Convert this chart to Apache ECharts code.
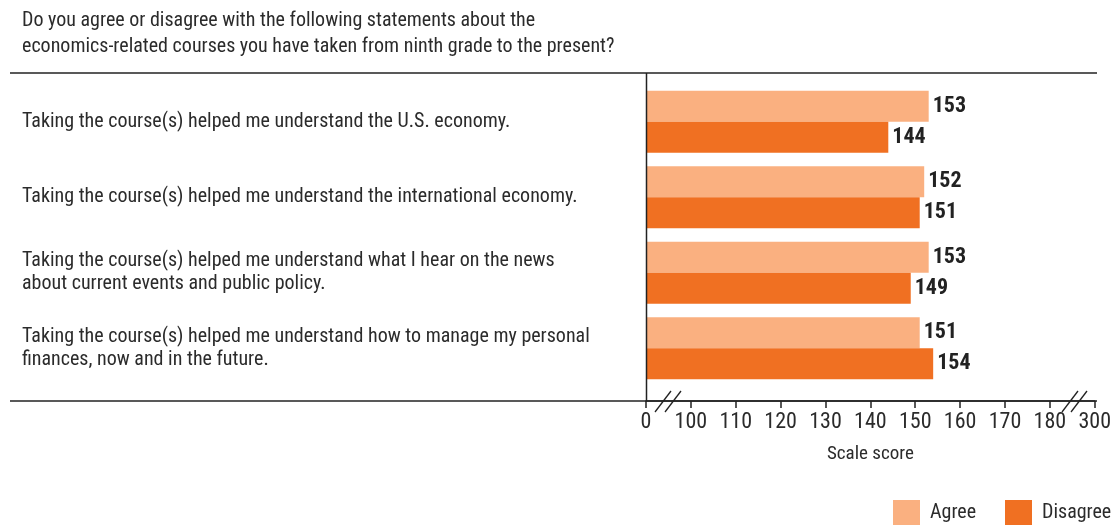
<!DOCTYPE html>
<html>
<head>
<meta charset="utf-8">
<script src="https://cdn.jsdelivr.net/npm/echarts@6/dist/echarts.min.js"></script>
<style>
html,body{margin:0;padding:0;background:#fff;}
#chart{width:1114px;height:527px;}
</style>
</head>
<body>
<div id="chart"></div>
<script>
var categories = [
  "Taking the course(s) helped me understand the U.S. economy.",
  "Taking the course(s) helped me understand the international economy.",
  "Taking the course(s) helped me understand what I hear on the news\nabout current events and public policy.",
  "Taking the course(s) helped me understand how to manage my personal\nfinances, now and in the future."
];
var agreeValues = [153, 152, 153, 151];
var disagreeValues = [144, 151, 149, 154];
// broken axis: position 90 shows "0", position 190 shows "300"
var tickLabels = {90: "0", 190: "300"};
var titleText = "Do you agree or disagree with the following statements about the\neconomics-related courses you have taken from ninth grade to the present?";

var FONT = 'Roboto';
var ST = 'condensed';
var TXT = '#2b2b2b';

var chart = echarts.init(document.getElementById('chart'));
var option = {
  backgroundColor: '#ffffff',
  animation: false,
  title: {
    text: titleText,
    left: 17,
    top: 3,
    textStyle: {fontFamily: FONT, fontStyle: ST, fontSize: 20, fontWeight: 'normal', color: TXT, lineHeight: 26}
  },
  legend: [
    {
      left: 888, top: 495, itemWidth: 27, itemHeight: 25, icon: 'rect', itemGap: 0,
      textStyle: {fontFamily: FONT, fontStyle: ST, fontSize: 20, color: TXT, padding: [0, 0, 0, 5]},
      data: ['Agree']
    },
    {
      left: 1000, top: 495, itemWidth: 27, itemHeight: 25, icon: 'rect', itemGap: 0,
      textStyle: {fontFamily: FONT, fontStyle: ST, fontSize: 20, color: TXT, padding: [0, 0, 0, 5]},
      data: ['Disagree']
    }
  ],
  grid: {left: 646, right: 19, top: 84, bottom: 141, containLabel: false},
  xAxis: {
    type: 'value',
    min: 90,
    max: 190,
    interval: 10,
    offset: 15,
    axisLine: {show: true, lineStyle: {color: '#222', width: 1.5}},
    axisTick: {show: true, length: 7, inside: false, lineStyle: {color: '#222', width: 1.5}},
    splitLine: {show: false},
    axisLabel: {
      fontFamily: FONT, fontStyle: ST, fontSize: 22, color: TXT, margin: 10,
      formatter: function (v) { return tickLabels[v] !== undefined ? tickLabels[v] : String(v); }
    },
    name: 'Scale score',
    nameLocation: 'middle',
    nameGap: 44,
    nameTextStyle: {fontFamily: FONT, fontStyle: ST, fontSize: 19, color: TXT}
  },
  yAxis: {
    type: 'category',
    inverse: true,
    data: categories,
    axisLine: {show: false},
    axisTick: {show: false},
    axisLabel: {
      align: 'left',
      margin: 624,
      fontFamily: FONT,
      fontStyle: ST,
      fontSize: 20,
      color: TXT,
      lineHeight: 23
    }
  },
  series: [
    {
      name: 'Agree',
      type: 'bar',
      data: agreeValues,
      barWidth: 31,
      barGap: '0%',
      itemStyle: {color: '#FAB080'},
      label: {show: true, position: 'right', distance: 4, fontFamily: FONT, fontStyle: ST, fontSize: 22, fontWeight: 'bold', color: '#222'}
    },
    {
      name: 'Disagree',
      type: 'bar',
      data: disagreeValues,
      barWidth: 31,
      barGap: '0%',
      itemStyle: {color: '#F07022'},
      label: {show: true, position: 'right', distance: 4, fontFamily: FONT, fontStyle: ST, fontSize: 22, fontWeight: 'bold', color: '#222'}
    }
  ],
  graphic: [
    {type: 'line', shape: {x1: 10, y1: 73, x2: 1097, y2: 73}, style: {stroke: '#222', lineWidth: 1.5}, z: 10},
    {type: 'line', shape: {x1: 10, y1: 401, x2: 1097, y2: 401}, style: {stroke: '#222', lineWidth: 1.5}, z: 10},
    {type: 'line', shape: {x1: 646.5, y1: 73, x2: 646.5, y2: 401}, style: {stroke: '#222', lineWidth: 1.5}, z: 10},
    {type: 'line', shape: {x1: 655, y1: 412, x2: 671, y2: 391}, style: {stroke: '#222', lineWidth: 1.3}, z: 10},
    {type: 'line', shape: {x1: 665, y1: 412, x2: 681, y2: 391}, style: {stroke: '#222', lineWidth: 1.3}, z: 10},
    {type: 'line', shape: {x1: 1062, y1: 412, x2: 1078, y2: 391}, style: {stroke: '#222', lineWidth: 1.3}, z: 10},
    {type: 'line', shape: {x1: 1071, y1: 412, x2: 1087, y2: 391}, style: {stroke: '#222', lineWidth: 1.3}, z: 10}
  ]
};
chart.setOption(option);
</script>
</body>
</html>
